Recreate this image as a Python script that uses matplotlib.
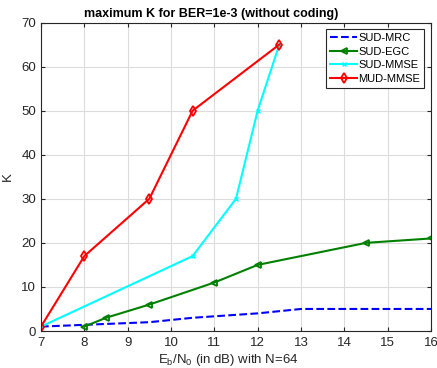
import matplotlib
matplotlib.use('Agg')
import matplotlib.pyplot as plt

# data
mrc_x = [7, 9.5, 10.5, 12, 13, 16]
mrc_k = [1, 2, 3, 4, 5, 5]

egc_x = [8, 8.5, 9.5, 11, 12, 14.5, 16]
egc_k = [1, 3, 6, 11, 15, 20, 21]

smmse_x = [7, 10.5, 11.5, 12, 12.5]
smmse_k = [1, 17, 30, 50, 65]

mmmse_x = [7, 8, 9.5, 10.5, 12.5]
mmmse_k = [1, 17, 30, 50, 65]

xticks = [7, 8, 9, 10, 11, 12, 13, 14, 15, 16]
yticks = [0, 10, 20, 30, 40, 50, 60, 70]

plt.rcParams['font.family'] = ['Liberation Sans', 'DejaVu Sans']

fig = plt.figure(figsize=(4.37, 3.68), dpi=100)
ax = fig.add_axes([41 / 437, 37 / 368, 390 / 437, 308.5 / 368])

ax.plot(mrc_x, mrc_k, '--', color='#0000ff', lw=1.5, label='SUD-MRC')
ax.plot(egc_x, egc_k, '-<', color='#008000', lw=1.5, ms=5, mfc='none', mew=1.3, label='SUD-EGC')
ax.plot(smmse_x, smmse_k, '-x', color='#00ffff', lw=1.5, ms=3, label='SUD-MMSE')
ax.plot(mmmse_x, mmmse_k, '-d', color='#ff0000', lw=1.5, ms=5, mfc='none', mew=1.3, label='MUD-MMSE')

ax.set_xlim(7, 16)
ax.set_ylim(0, 70)
ax.set_xticks(xticks)
ax.set_yticks(yticks)
ax.grid(True, color='#dcdcdc', lw=0.8)
ax.set_axisbelow(True)
ax.tick_params(direction='in', length=3, labelsize=9.5, colors='#262626', top=True, right=True)
ax.tick_params(axis='x', pad=4)
for s in ax.spines.values():
    s.set_color('#262626')
    s.set_linewidth(0.8)

ax.set_title('maximum K for BER=1e-3 (without coding)', fontsize=9, fontweight='bold',
             x=0.436, pad=4)
ax.set_xlabel(r'E$_\mathregular{b}$/N$_\mathregular{0}$ (in dB) with N=64', fontsize=9.5, color='#262626')
ax.xaxis.set_label_coords(0.48, -0.068)
ax.set_ylabel('K', fontsize=9.5, color='#262626')
ax.yaxis.set_label_coords(-0.07, 0.5)

leg = ax.legend(loc='upper right', fontsize=8, fancybox=False, edgecolor='#262626',
                handlelength=2.4, handletextpad=0.15, borderpad=0.35, labelspacing=0.33,
                borderaxespad=0.6, framealpha=1)
leg.get_frame().set_linewidth(0.8)

fig.savefig('out.png', dpi=100)
